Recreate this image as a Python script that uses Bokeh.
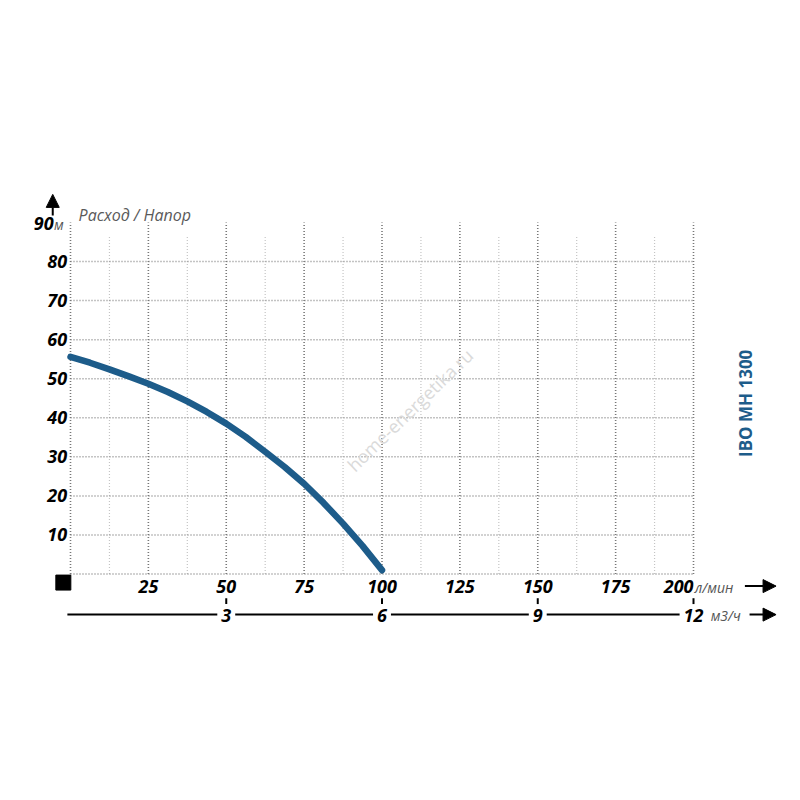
from bokeh.plotting import figure
from bokeh.models import Range1d, Arrow, NormalHead
from bokeh.core.properties import value
from bokeh.embed import file_html
from bokeh.resources import INLINE

# pump curve: flow (l/min) vs head (m)
flow_lpm = [0, 6.25, 12.5, 18.75, 25, 31.25, 37.5, 43.75, 50, 56.25,
            62.5, 68.75, 75, 81.25, 87.5, 93.75, 100]
head_m = [55.6, 54.1, 52.4, 50.6, 48.7, 46.6, 44.2, 41.5, 38.5, 35.1,
          31.3, 27.4, 23.1, 18.2, 12.9, 7.2, 1.0]

x_ticks = [25, 50, 75, 100, 125, 150, 175]
x_grid_major = [0, 25, 50, 75, 100, 125, 150, 175, 200]
x_grid_minor = [12.5, 37.5, 62.5, 87.5, 112.5, 137.5, 162.5, 187.5]
y_ticks = [10, 20, 30, 40, 50, 60, 70, 80]
y_grid = [0, 10, 20, 30, 40, 50, 60, 70, 80]
m3h_ticks = [3, 6, 9, 12]
m3h_pos = [v * 1000 / 60 for v in m3h_ticks]   # same flow in l/min

CURVE = "#1d5c8a"
FONT = value("Open Sans")

# frame = whole canvas; x: 0 at px 70, 200 at px 693 ; y: 0 at px 573.5, 90 at px 222
sx = 623 / 200.0
sy = 351.5 / 90.0
x0 = (0 - 70) / sx
x1 = (784 - 70) / sx
y1 = (573.5 - 0) / sy
y0 = (573.5 - 784) / sy

p = figure(width=784, height=784, x_range=Range1d(x0, x1), y_range=Range1d(y0, y1),
           x_axis_type=None, y_axis_type=None, min_border=0,
           toolbar_location=None, output_backend="svg")
p.outline_line_color = None
p.background_fill_color = "white"

# grid
p.segment(x0=x_grid_minor, y0=[0] * len(x_grid_minor), x1=x_grid_minor, y1=[86.5] * len(x_grid_minor),
          line_color="#c4c4c4", line_width=1.2, line_dash="1 2")
p.segment(x0=[0] * len(y_grid), y0=y_grid, x1=[200] * len(y_grid), y1=y_grid,
          line_color="#888888", line_width=1.5, line_dash="1 2")
p.segment(x0=x_grid_major, y0=[0] * len(x_grid_major), x1=x_grid_major, y1=[90] * len(x_grid_major),
          line_color="#777777", line_width=1.6, line_dash="1 2")

# curve
p.line(flow_lpm, head_m, line_color=CURVE, line_width=6.5, line_cap="round")

# watermark
p.text(x=[109], y=[42], text=["home-energetika.ru"], angle=0.77,
       text_font=FONT, text_font_size="18px", text_color="#dadada",
       text_align="center", text_baseline="middle")

# y labels
p.text(x=[-1.1] * len(y_ticks), y=y_ticks, text=[str(v) for v in y_ticks],
       text_font=FONT, text_font_size="18px", text_font_style="bold italic",
       text_color="black", text_align="right", text_baseline="middle")
p.text(x=[-5.4], y=[89.8], text=["90"], text_font=FONT, text_font_size="18px",
       text_font_style="bold italic", text_color="black",
       text_align="right", text_baseline="middle")
p.text(x=[-5.3], y=[89.6], text=["м"], text_font=FONT, text_font_size="14px",
       text_font_style="italic", text_color="#555555",
       text_align="left", text_baseline="middle")
p.text(x=[2.6], y=[92.0], text=["Расход / Напор"], text_font=FONT, text_font_size="16px",
       text_font_style="italic", text_color="#5a5a5a",
       text_align="left", text_baseline="middle")
p.add_layout(Arrow(end=NormalHead(size=13, fill_color="black", line_color="black"),
                   x_start=-5.7, y_start=91.8, x_end=-5.7, y_end=97.2,
                   line_color="black", line_width=2))

# origin square
p.scatter(x=[-2.3], y=[-2.2], marker="square", size=15, fill_color="black", line_color="black")

# x labels (l/min)
p.text(x=x_ticks, y=[-3.2] * len(x_ticks), text=[str(v) for v in x_ticks],
       text_font=FONT, text_font_size="18px", text_font_style="bold italic",
       text_color="black", text_align="center", text_baseline="middle")
p.text(x=[200], y=[-3.2], text=["200"], text_font=FONT, text_font_size="18px",
       text_font_style="bold italic", text_color="black",
       text_align="right", text_baseline="middle")
p.text(x=[200.4], y=[-3.4], text=["л/мин"], text_font=FONT, text_font_size="14px",
       text_font_style="italic", text_color="#555555",
       text_align="left", text_baseline="middle")
p.add_layout(Arrow(end=NormalHead(size=13, fill_color="black", line_color="black"),
                   x_start=216.5, y_start=-3.1, x_end=226.5, y_end=-3.1,
                   line_color="black", line_width=2))

# second scale (m3/h)
p.segment(x0=[-1], y0=[-10.4], x1=[197], y1=[-10.4], line_color="black", line_width=2)
p.segment(x0=m3h_pos, y0=[-6.2] * len(m3h_pos), x1=m3h_pos, y1=[-7.7] * len(m3h_pos),
          line_color="black", line_width=2)
p.text(x=m3h_pos, y=[-10.6] * len(m3h_pos), text=[str(v) for v in m3h_ticks],
       text_font=FONT, text_font_size="18px", text_font_style="bold italic",
       text_color="black", text_align="center", text_baseline="middle",
       background_fill_color="white", padding=4)
p.text(x=[205.5], y=[-10.7], text=["м3/ч"], text_font=FONT, text_font_size="14px",
       text_font_style="italic", text_color="#555555",
       text_align="left", text_baseline="middle")
p.add_layout(Arrow(end=NormalHead(size=13, fill_color="black", line_color="black"),
                   x_start=218.0, y_start=-10.4, x_end=226.5, y_end=-10.4,
                   line_color="black", line_width=2))

# model name
p.text(x=[216.7], y=[43.7], text=["IBO MH 1300"], angle=1.5708,
       text_font=FONT, text_font_size="17px", text_font_style="bold",
       text_color=CURVE, text_align="center", text_baseline="middle")

open("out.html", "w").write(file_html(p, INLINE))
